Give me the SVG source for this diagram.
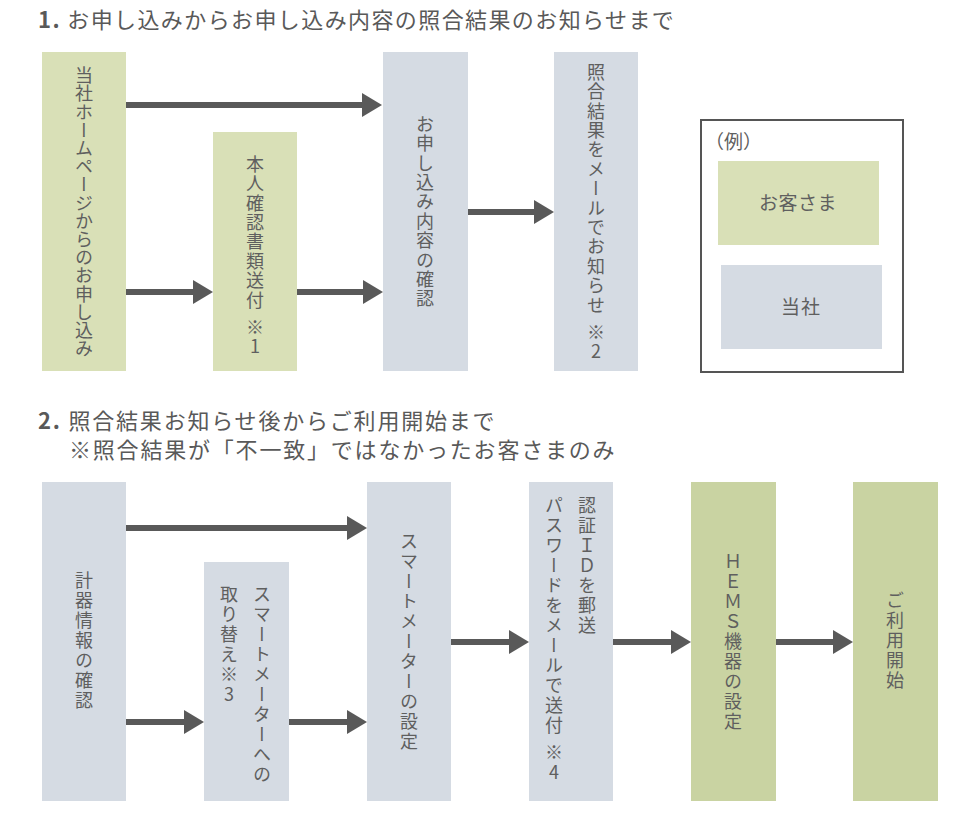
<svg xmlns="http://www.w3.org/2000/svg" width="980" height="840" viewBox="0 0 980 840">
<style>
.title{font-family:"Noto Sans CJK JP","Noto Sans",sans-serif;font-size:22px;fill:#595959;letter-spacing:1.4px}
.t2{letter-spacing:1.8px}
.num{font-weight:bold}
.v{font-family:"Noto Sans CJK JP","Noto Sans",sans-serif;font-size:18px;fill:#5f5f5f;writing-mode:vertical-rl;text-orientation:upright;letter-spacing:1.4px}
.v0{letter-spacing:0.2px}
.v2{letter-spacing:2px}
.mid{text-anchor:middle}
.st{text-anchor:start}
.h{font-family:"Noto Sans CJK JP","Noto Sans",sans-serif;font-size:19px;fill:#5f5f5f}
.g1{fill:#d9e0b7}
.b1{fill:#d5dbe3}
.g2{fill:#c9d3a2}
.arr{stroke:#595959;stroke-width:6;fill:none;marker-end:url(#ah)}
</style>
<defs>
<marker id="ah" markerUnits="userSpaceOnUse" markerWidth="20" markerHeight="24" refX="10" refY="12" orient="auto">
<path d="M0,0 L20,12 L0,24 Z" fill="#595959"/>
</marker>
</defs>
<rect width="980" height="840" fill="#ffffff"/>

<text class="title" x="38" y="28"><tspan class="num">1.</tspan> お申し込みからお申し込み内容の照合結果のお知らせまで</text>
<text class="title t2" x="38" y="429"><tspan class="num">2.</tspan> 照合結果お知らせ後からご利用開始まで</text>
<text class="title t2" x="69" y="458">※照合結果が「不一致」ではなかったお客さまのみ</text>

<g id="connectors">
<line class="arr" x1="126" y1="105" x2="372" y2="105"/>
<line class="arr" x1="126" y1="292" x2="203" y2="292"/>
<line class="arr" x1="297" y1="292" x2="373" y2="292"/>
<line class="arr" x1="468" y1="212" x2="544" y2="212"/>
<line class="arr" x1="126" y1="528" x2="357" y2="528"/>
<line class="arr" x1="126" y1="722" x2="194" y2="722"/>
<line class="arr" x1="289" y1="722" x2="357" y2="722"/>
<line class="arr" x1="451" y1="642" x2="519" y2="642"/>
<line class="arr" x1="613" y1="642" x2="681" y2="642"/>
<line class="arr" x1="776" y1="642" x2="843" y2="642"/>
</g>

<g id="n-apply">
<rect class="g1" x="42" y="52" width="84" height="319"/>
<text class="v v0 mid" x="84" y="212">当社ホームページからのお申し込み</text>
</g>
<g id="n-docs">
<rect class="g1" x="213" y="132" width="84" height="239"/>
<text class="v st" x="255" y="155">本人確認書類送付<tspan dy="8">※1</tspan></text>
</g>
<g id="n-check">
<rect class="b1" x="383" y="52" width="85" height="319"/>
<text class="v mid" x="425" y="212">お申し込み内容の確認</text>
</g>
<g id="n-result">
<rect class="b1" x="554" y="52" width="84" height="319"/>
<text class="v st" x="596" y="63">照合結果をメールでお知らせ<tspan dy="8">※2</tspan></text>
</g>

<g id="legend">
<rect x="701" y="120" width="202" height="252" fill="#ffffff" stroke="#555555" stroke-width="2"/>
<text class="h" x="705" y="149">（例）</text>
<rect class="g1" x="718" y="161" width="161" height="84"/>
<text class="h mid" x="798" y="210" style="letter-spacing:0.5px">お客さま</text>
<rect class="b1" x="721" y="265" width="161" height="84"/>
<text class="h mid" x="801" y="314" style="letter-spacing:1px">当社</text>
</g>

<g id="n-meter">
<rect class="b1" x="42" y="482" width="84" height="319"/>
<text class="v v2 mid" x="84" y="641">計器情報の確認</text>
</g>
<g id="n-replace">
<rect class="b1" x="204" y="562" width="85" height="239"/>
<text class="v v2 st" x="262" y="585">スマートメーターへの</text>
<text class="v v2 st" x="229" y="585">取り替え※3</text>
</g>
<g id="n-smset">
<rect class="b1" x="367" y="482" width="84" height="319"/>
<text class="v v2 mid" x="409" y="642">スマートメーターの設定</text>
</g>
<g id="n-id">
<rect class="b1" x="529" y="482" width="84" height="319"/>
<text class="v v2 st" x="587" y="496">認証ＩＤを郵送</text>
<text class="v v2 st" x="554" y="496">パスワードをメールで送付<tspan dy="7">※4</tspan></text>
</g>
<g id="n-hems">
<rect class="g2" x="691" y="482" width="85" height="319"/>
<text class="v v2 mid" x="733" y="642">ＨＥＭＳ機器の設定</text>
</g>
<g id="n-start">
<rect class="g2" x="853" y="482" width="85" height="319"/>
<text class="v v2 mid" x="895" y="641">ご利用開始</text>
</g>
</svg>
